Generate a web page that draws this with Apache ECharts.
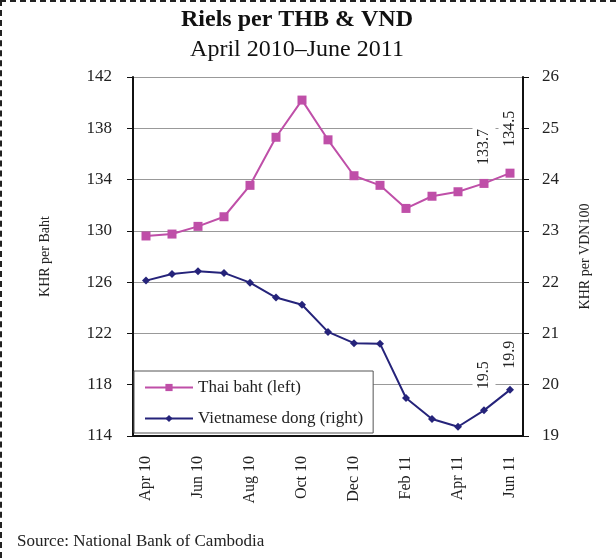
<!DOCTYPE html>
<html>
<head>
<meta charset="utf-8">
<script src="https://cdn.jsdelivr.net/npm/echarts@6/dist/echarts.min.js"></script>
<style>
  body { margin: 0; background: #fff; }
  #wrap { position: relative; width: 616px; height: 558px; }
  #chart { width: 616px; height: 558px; }
  #frame { position: absolute; left: 0; top: 0; width: 616px; height: 558px; box-sizing: border-box;
           border-top: 2px dashed #222; border-left: 2px dashed #222; pointer-events: none; }
</style>
</head>
<body>
<div id="wrap">
  <div id="chart"></div>
  <div id="frame"></div>
</div>
<script>
// 数据
const months = ['Apr 10', 'May 10', 'Jun 10', 'Jul 10', 'Aug 10', 'Sep 10', 'Oct 10', 'Nov 10',
  'Dec 10', 'Jan 11', 'Feb 11', 'Mar 11', 'Apr 11', 'May 11', 'Jun 11']
const thaiBaht = [129.6, 129.75, 130.35, 131.1, 133.55, 137.3, 140.2, 137.1, 134.3, 133.55, 131.75, 132.7, 133.05, 133.7, 134.5]
const vietDong = [22.03, 22.16, 22.21, 22.18, 21.99, 21.7, 21.56, 21.03, 20.81, 20.8, 19.74, 19.33, 19.18, 19.5, 19.9]
const leftTicks = { min: 114, max: 142, step: 4 }
const rightTicks = { min: 19, max: 26, step: 1 }

const serif = "'Liberation Serif', 'Times New Roman', serif"
const pink = '#BF4FA8'
const navy = '#25237A'

// 只给最后两个点标数值
const withLabels = (arr, gaps) => arr.map((v, i) => {
  let k = i - (arr.length - 2)
  return k >= 0 ? { value: v, label: { show: true, distance: gaps[k] } } : v
})

// 旋转后 padding 的上/下 变成 左/右
const pointLabel = {
  show: false,
  position: 'top',
  distance: 14,
  rotate: 90,
  align: 'left',
  verticalAlign: 'middle',
  backgroundColor: '#fff',
  padding: [6, 2, 1, 2],
  fontFamily: serif,
  fontSize: 16,
  color: '#222',
  formatter: p => p.value.toFixed(1)
}

let chart = echarts.init(document.getElementById('chart'))

let option = {
  animation: false,
  title: [
    {
      text: 'Riels per THB & VND',
      left: 297, top: 8, padding: 0, textAlign: 'center',
      textStyle: { fontFamily: serif, fontSize: 24, fontWeight: 'bold', color: '#111' }
    },
    {
      text: 'April 2010–June 2011',
      left: 297, top: 38, padding: 0, textAlign: 'center',
      textStyle: { fontFamily: serif, fontSize: 24, fontWeight: 'normal', color: '#111' }
    }
  ],
  grid: { left: 133, right: 93, top: 77, bottom: 122 },
  legend: {
    orient: 'vertical',
    left: 134, top: 371,
    padding: [8, 10, 6, 10],
    itemGap: 14,
    itemWidth: 48,
    itemHeight: 9,
    backgroundColor: '#fff',
    borderColor: '#555',
    borderWidth: 1,
    textStyle: { fontFamily: serif, fontSize: 17, color: '#222' }
  },
  xAxis: {
    type: 'category',
    data: months,
    boundaryGap: true,
    axisLine: { lineStyle: { color: '#111', width: 2 } },
    axisTick: { interval: 1, length: 6, lineStyle: { color: '#111' } },
    axisLabel: { interval: 1, rotate: 90, margin: 20, fontFamily: serif, fontSize: 16, color: '#222' }
  },
  yAxis: [
    {
      type: 'value',
      min: leftTicks.min, max: leftTicks.max, interval: leftTicks.step,
      name: 'KHR per Baht',
      nameLocation: 'middle', nameRotate: 90, nameGap: 81,
      nameTextStyle: { fontFamily: serif, fontSize: 14, color: '#222' },
      axisLine: { show: true, lineStyle: { color: '#111', width: 2 } },
      axisTick: { show: true, length: 6, lineStyle: { color: '#111' } },
      axisLabel: { margin: 21, fontFamily: serif, fontSize: 17, color: '#222' },
      splitLine: { lineStyle: { color: '#999', width: 1 } }
    },
    {
      type: 'value',
      min: rightTicks.min, max: rightTicks.max, interval: rightTicks.step,
      name: 'KHR per VDN100',
      nameLocation: 'middle', nameRotate: 90, nameGap: 55,
      nameTextStyle: { fontFamily: serif, fontSize: 14, color: '#222' },
      axisLine: { show: true, lineStyle: { color: '#111', width: 2 } },
      axisTick: { show: true, length: 6, lineStyle: { color: '#111' } },
      axisLabel: { margin: 19, fontFamily: serif, fontSize: 17, color: '#222' },
      splitLine: { show: false }
    }
  ],
  series: [
    {
      name: 'Thai baht (left)',
      type: 'line',
      yAxisIndex: 0,
      data: withLabels(thaiBaht, [12, 20]),
      symbol: 'rect',
      symbolSize: 9,
      lineStyle: { color: pink, width: 2 },
      itemStyle: { color: pink },
      label: pointLabel
    },
    {
      name: 'Vietnamese dong (right)',
      type: 'line',
      yAxisIndex: 1,
      data: withLabels(vietDong, [15, 15]),
      symbol: 'diamond',
      symbolSize: 8,
      lineStyle: { color: navy, width: 2 },
      itemStyle: { color: navy },
      label: pointLabel
    }
  ],
  graphic: [
    {
      type: 'text',
      left: 17, top: 533,
      style: { text: 'Source: National Bank of Cambodia', font: '17px ' + serif, fill: '#222' }
    }
  ]
}

chart.setOption(option)
</script>
</body>
</html>
